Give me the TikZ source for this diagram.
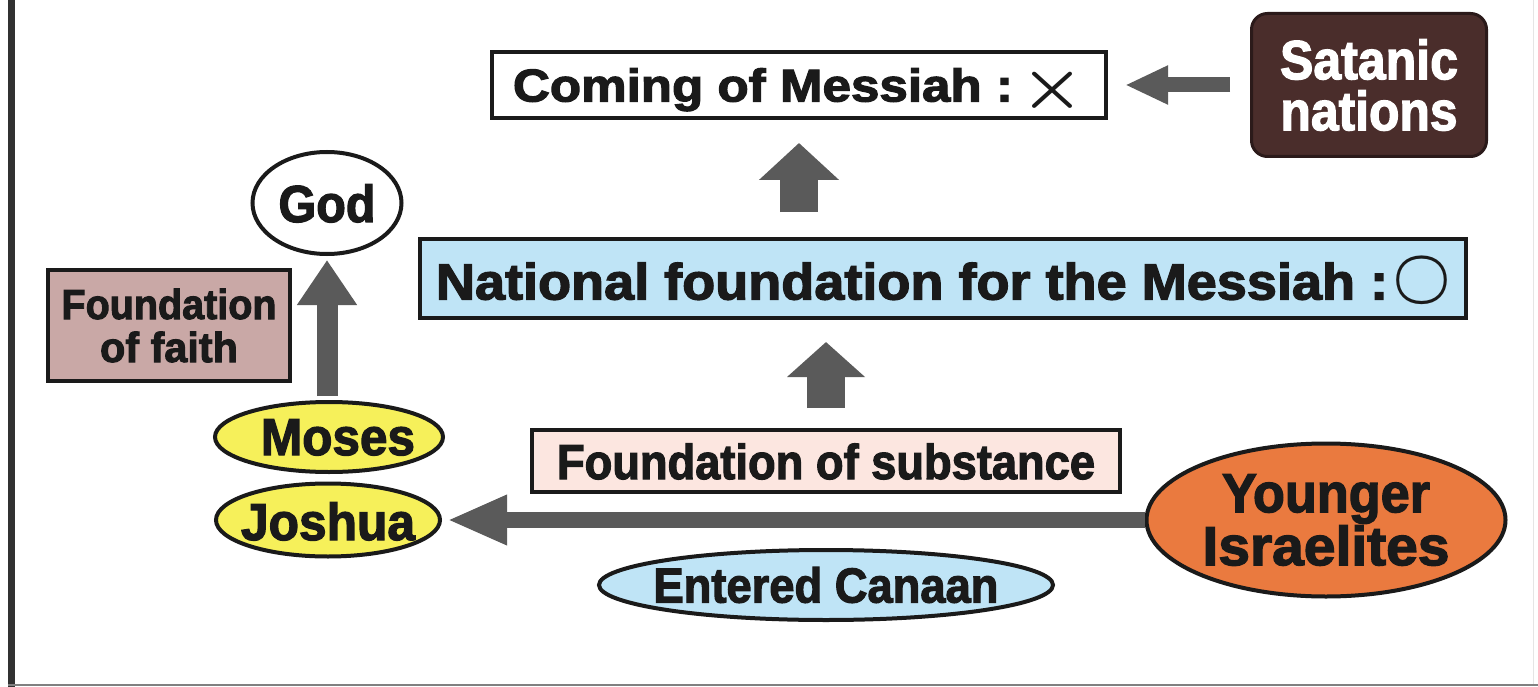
\documentclass[tikz,border=0pt]{standalone}
\usepackage{fontspec}
\setmainfont{Liberation Sans}[BoldFeatures={FakeBold=2.4}]
\usetikzlibrary{arrows.meta,shapes.geometric}
\newcommand{\fit}[3]{\resizebox{#1}{\height}{\fontsize{#2}{#2}\selectfont\bfseries #3}}
\definecolor{ink}{HTML}{1A1A1A}
\definecolor{arrowgray}{HTML}{5A5A5A}
\definecolor{paleblue}{HTML}{BFE4F6}
\definecolor{palepink}{HTML}{FCE6E0}
\definecolor{dustypink}{HTML}{C9A8A6}
\definecolor{satanbrown}{HTML}{4A2D2B}
\definecolor{satanline}{HTML}{2B1A1A}
\definecolor{yellowfill}{HTML}{F6F05A}
\definecolor{orangefill}{HTML}{EA7A3F}
\tikzset{
  box/.style={draw=ink, line width=4pt, inner sep=0pt, rectangle, text=ink},
  oval/.style={draw=ink, line width=4pt, inner sep=0pt, ellipse, text=ink},
  blockarrow/.style={draw=arrowgray, line cap=butt},
}
\begin{document}
\begin{tikzpicture}[x=1pt,y=-1pt]
\useasboundingbox (0,0) rectangle (1538,687);
\fill[white] (0,0) rectangle (1538,687);
% frame
\coordinate (ftop) at (11.5,0);
\coordinate (fbot) at (11.5,687);
\coordinate (bl) at (8,685);
\coordinate (br) at (1538,685);
\coordinate (rt) at (1533,0);
\coordinate (rb) at (1533,684);
\draw[line width=7pt, color=ink!90] (ftop) -- (fbot);
\draw[line width=2pt, color=black!50] (bl) -- (br);
\draw[line width=1pt, color=black!10] (rt) -- (rb);

% nodes
\node[box, fill=white, minimum width=614pt, minimum height=66pt, text height=33pt, text depth=0pt] (com) at (799,85)
  {\fit{500pt}{46}{Coming of Messiah :}\hspace{8pt}\raisebox{-5pt}{\resizebox{64pt}{41pt}{\boldmath$\times$}}};
\node[draw=satanline, line width=3pt, fill=satanbrown, rounded corners=16pt, inner sep=0pt,
      minimum width=235pt, minimum height=143pt, align=center, text=white,
      font=\fontsize{40}{51}\selectfont] (sat) at (1369,85)
  {\fit{178pt}{55}{Satanic}\\\fit{177pt}{55}{nations}};
\node[box, fill=paleblue, minimum width=1046pt, minimum height=79pt, text height=42pt, text depth=0pt] (nat) at (943,278.5)
  {\fit{952pt}{51}{National foundation for the Messiah :}\hspace{5pt}\raisebox{6pt}{\resizebox*{57pt}{47pt}{\boldmath$\bigcirc$}}};
\node[box, fill=palepink, minimum width=588pt, minimum height=62pt, text height=36pt, text depth=0pt] (sub) at (826,461)
  {\fit{538pt}{49}{Foundation of substance}};
\node[oval, fill=paleblue, inner xsep=-60pt, minimum width=454pt, minimum height=70pt, text height=35pt, text depth=0pt] (can) at (826,585)
  {\fit{345pt}{49}{Entered Canaan}};
\node[oval, fill=orangefill, minimum width=359pt, minimum height=153pt, align=center,
      font=\fontsize{40}{53}\selectfont] (young) at (1326,520)
  {\fit{208pt}{55}{Younger}\\\fit{247pt}{55}{Israelites}};
\node[oval, fill=white, minimum width=149pt, minimum height=102pt, text height=38pt, text depth=0pt] (god) at (327,203)
  {\fit{97pt}{52}{God}};
\node[box, fill=dustypink, minimum width=242pt, minimum height=111pt, align=center,
      font=\fontsize{40}{43}\selectfont] (faith) at (169,325.5)
  {\fit{215pt}{42}{Foundation}\\\fit{138pt}{42}{of faith}};
\node[oval, fill=yellowfill, inner xsep=-30pt, minimum width=228pt, minimum height=70pt, text height=36pt, text depth=0pt] (moses) at (329,437)
  {\hspace*{18pt}\fit{154pt}{52}{Moses}};
\node[oval, fill=yellowfill, inner xsep=-30pt, minimum width=224pt, minimum height=73pt, text height=40pt, text depth=0pt] (josh) at (328,520)
  {\fit{174pt}{52}{Joshua}};

% arrows
\draw[blockarrow, line width=38pt, -{Triangle[width=78pt,length=37pt]}, shorten <=25pt, shorten >=23pt]
  (nat.north -| com.south) -- (com.south);
\draw[blockarrow, line width=38pt, -{Triangle[width=76pt,length=35pt]}, shorten <=20pt, shorten >=22pt]
  (sub.north) -- (sub.north |- nat.south);
\draw[blockarrow, line width=15pt, -{Triangle[width=36pt,length=43pt]}, shorten <=20pt, shorten >=17pt]
  (sat.west) -- (com.east);
\draw[blockarrow, line width=21pt, -{Triangle[width=57pt,length=45pt]}, shorten <=4pt, shorten >=4pt]
  (moses.north -| god.south) -- (god.south);
\draw[blockarrow, line width=16pt, -{Triangle[width=46pt,length=60pt]}, shorten >=5pt]
  (young.west) -- (josh.east);
\end{tikzpicture}
\end{document}
